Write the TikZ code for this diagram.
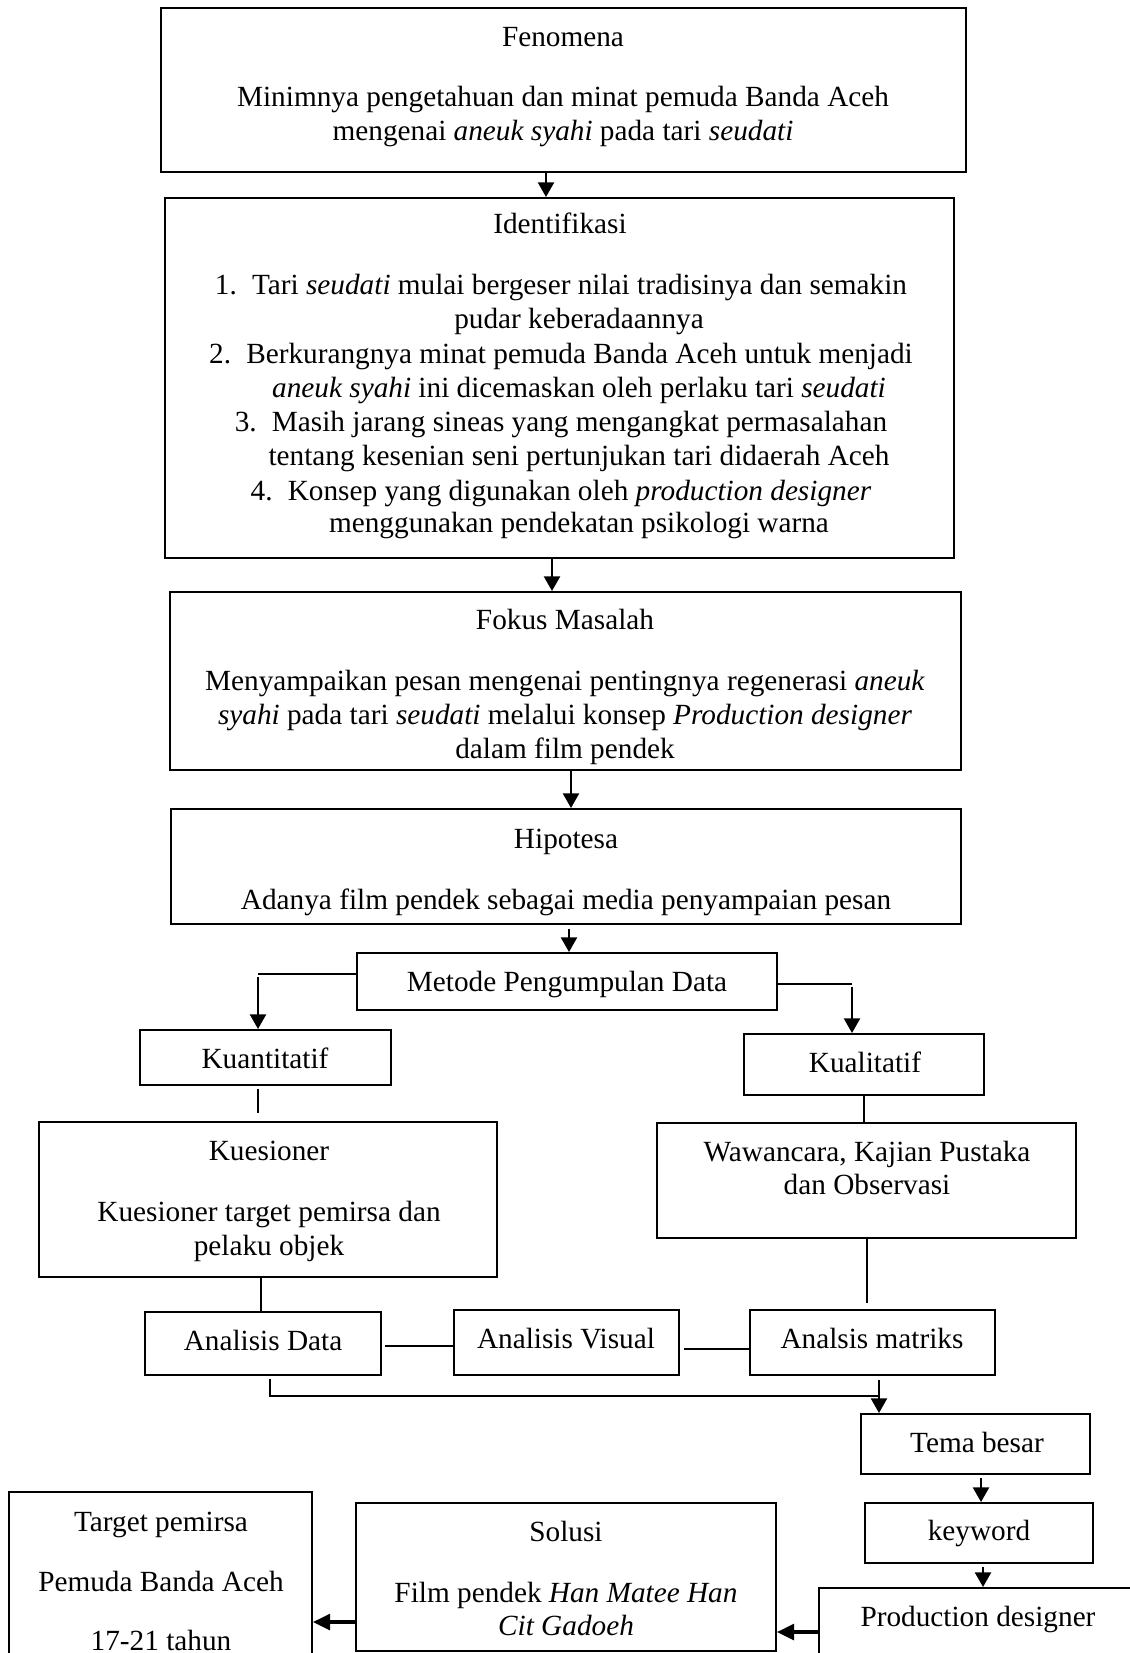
\documentclass[tikz,border=0pt]{standalone}
\usepackage{fontspec}
\setmainfont{Liberation Serif}
\usetikzlibrary{arrows.meta,calc,fit}
\begin{document}
\begin{tikzpicture}[x=0.41pt,y=-0.41pt,
  box/.style={draw,line width=0.8pt,inner sep=0pt},
  txt/.style={inner sep=0pt,anchor=base,font=\fontsize{12pt}{13.9pt}\selectfont},
  conn/.style={line width=0.45pt},
  arr/.style={line width=1.05pt,-{Triangle[length=6pt,width=6.5pt]}},
  thickarr/.style={line width=1.3pt,-{Triangle[length=7pt,width=6.5pt]}}]
\useasboundingbox (0,0) rectangle (1130,1653);
\clip (0,0) rectangle (1130,1653);

% boxes
\node[box,fit={(161,8) (966,172)}] (fen) {};
\node[box,fit={(165,198) (954,558)}] (ident) {};
\node[box,fit={(170,592) (961,770)}] (fokus) {};
\node[box,fit={(171,809) (961,924)}] (hipo) {};
\node[box,fit={(357,953) (777,1010)}] (metode) {};
\node[box,fit={(140,1030) (391,1085)}] (kuan) {};
\node[box,fit={(744,1034) (984,1095)}] (kual) {};
\node[box,fit={(39,1122) (497,1277)}] (kues) {};
\node[box,fit={(657,1123) (1076,1238)}] (waw) {};
\node[box,fit={(145,1312) (381,1375)}] (ad) {};
\node[box,fit={(454,1310) (679,1375)}] (av) {};
\node[box,fit={(750,1310) (995,1375)}] (am) {};
\node[box,fit={(861,1414) (1090,1474)}] (tema) {};
\node[box,fit={(865,1503) (1093,1563)}] (key) {};
\node[box,fit={(819,1588) (1140,1700)}] (pd) {};
\node[box,fit={(356,1503) (776,1651)}] (sol) {};
\node[box,fit={(9,1492) (312,1700)}] (tgt) {};

% texts
\node[txt] (t1) at (563,47) {Fenomena};
\node[txt] (t2) at (563,107) {Minimnya pengetahuan dan minat pemuda Banda Aceh};
\node[txt] (t3) at (563,141) {mengenai \textit{aneuk syahi} pada tari \textit{seudati}};

\node[txt] (i0) at (560,234) {Identifikasi};
\node[txt] (i1) at (561,295) {\makebox[15.2pt][l]{1.}Tari \textit{seudati} mulai bergeser nilai tradisinya dan semakin};
\node[txt] (i2) at (579,329) {pudar keberadaannya};
\node[txt] (i3) at (561,364) {\makebox[15.2pt][l]{2.}Berkurangnya minat pemuda Banda Aceh untuk menjadi};
\node[txt] (i4) at (579,398) {\textit{aneuk syahi} ini dicemaskan oleh perlaku tari \textit{seudati}};
\node[txt] (i5) at (561,432) {\makebox[15.2pt][l]{3.}Masih jarang sineas yang mengangkat permasalahan};
\node[txt] (i6) at (579,466) {tentang kesenian seni pertunjukan tari didaerah Aceh};
\node[txt] (i7) at (561,500) {\makebox[15.2pt][l]{4.}Konsep yang digunakan oleh \textit{production designer}};
\node[txt] (i8) at (579,533) {menggunakan pendekatan psikologi warna};

\node[txt] (f0) at (565,629) {Fokus Masalah};
\node[txt] (f1) at (565,690) {Menyampaikan pesan mengenai pentingnya regenerasi \textit{aneuk}};
\node[txt] (f2) at (565,724) {\textit{syahi} pada tari \textit{seudati} melalui konsep \textit{Production designer}};
\node[txt] (f3) at (565,758) {dalam film pendek};

\node[txt] (h0) at (566,848) {Hipotesa};
\node[txt] (h1) at (566,909) {Adanya film pendek sebagai media penyampaian pesan};

\node[txt] (m0) at (567,991) {Metode Pengumpulan Data};
\node[txt] (kn0) at (265,1068) {Kuantitatif};
\node[txt] (kl0) at (865,1072) {Kualitatif};

\node[txt] (ks0) at (269,1160) {Kuesioner};
\node[txt] (ks1) at (269,1221) {Kuesioner target pemirsa dan};
\node[txt] (ks2) at (269,1255) {pelaku objek};

\node[txt] (w0) at (867,1161) {Wawancara, Kajian Pustaka};
\node[txt] (w1) at (867,1194) {dan Observasi};

\node[txt] (ad0) at (263,1350) {Analisis Data};
\node[txt] (av0) at (566,1348) {Analisis Visual};
\node[txt] (am0) at (872,1348) {Analsis matriks};

\node[txt] (tb0) at (977,1452) {Tema besar};
\node[txt] (kw0) at (979,1540) {keyword};
\node[txt] (pd0) at (978,1626) {Production designer};

\node[txt] (s0) at (566,1541) {Solusi};
\node[txt] (s1) at (566,1602) {Film pendek \textit{Han Matee Han}};
\node[txt] (s2) at (566,1635) {\textit{Cit Gadoeh}};

\node[txt] (tg0) at (161,1531) {Target pemirsa};
\node[txt] (tg1) at (161,1591) {Pemuda Banda Aceh};
\node[txt] (tg2) at (161,1650) {17-21 tahun};

% connectors
\coordinate (x1) at (546,0);
\draw[arr] (x1 |- fen.south) -- (x1 |- ident.north);
\coordinate (x2) at (552,0);
\draw[arr] (x2 |- ident.south) -- (x2 |- fokus.north);
\coordinate (x3) at (571,0);
\draw[arr] (x3 |- fokus.south) -- (x3 |- hipo.north);
\coordinate (x4) at (569,0);
\draw[arr,shorten <=1.5pt] (x4 |- hipo.south) -- (x4 |- metode.north);

\coordinate (ml) at (0,974);
\coordinate (kx) at (258,0);
\draw[conn] (ml -| metode.west) -- (ml -| kx);
\draw[arr] ($(ml -| kx)+(0,3)$) -- (kx |- kuan.north);
\coordinate (mr) at (0,984);
\coordinate (qx) at (852,0);
\draw[conn] (mr -| metode.east) -- (mr -| qx);
\draw[arr] ($(mr -| qx)+(0,3)$) -- (qx |- kual.north);

\draw[conn,shorten <=1.2pt,shorten >=3.3pt] (kx |- kuan.south) -- (kx |- kues.north);
\coordinate (x5) at (864,0);
\draw[conn] (x5 |- kual.south) -- (x5 |- waw.north);
\coordinate (x6) at (261,0);
\draw[conn] (x6 |- kues.south) -- (x6 |- ad.north);
\coordinate (x7) at (867,0);
\draw[conn,shorten >=2.5pt] (x7 |- waw.south) -- (x7 |- am.north);

\coordinate (y1) at (0,1346);
\draw[conn,shorten <=1.2pt] (y1 -| ad.east) -- (y1 -| av.west);
\coordinate (y2) at (0,1349);
\draw[conn,shorten <=1.6pt] (y2 -| av.east) -- (y2 -| am.west);

\coordinate (j) at (879,1396);
\coordinate (adx) at (270,0);
\draw[conn,shorten <=1.2pt] (adx |- ad.south) |- (j);
\coordinate (tx) at (879,0);
\draw[arr,shorten <=1.5pt] (tx |- am.south) -- (tx |- tema.north);

\coordinate (x8) at (981,0);
\draw[arr,shorten <=1.2pt] (x8 |- tema.south) -- (x8 |- key.north);
\coordinate (x9) at (983,0);
\draw[arr,shorten <=1.2pt] (x9 |- key.south) -- (x9 |- pd.north);

\coordinate (y3) at (0,1632);
\draw[thickarr] (y3 -| pd.west) -- (y3 -| sol.east);
\coordinate (y4) at (0,1622);
\draw[thickarr] (y4 -| sol.west) -- (y4 -| tgt.east);
\end{tikzpicture}
\end{document}
